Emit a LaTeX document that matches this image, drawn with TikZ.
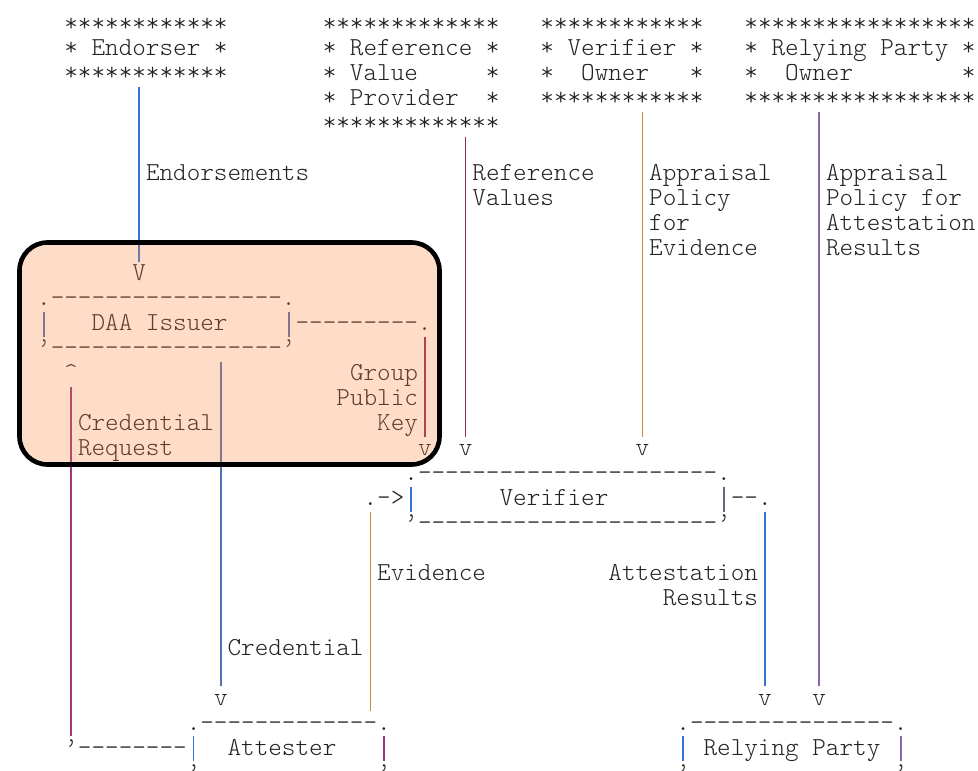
\documentclass[tikz,border=0pt]{standalone}
\definecolor{ink}{RGB}{35,35,35}
\definecolor{cblue}{RGB}{55,115,210}
\definecolor{csteel}{RGB}{80,115,175}
\definecolor{cred}{RGB}{145,40,85}
\definecolor{cmag}{RGB}{160,55,125}
\definecolor{corange}{RGB}{205,135,60}
\definecolor{cpurple}{RGB}{140,100,175}
\definecolor{cgray}{RGB}{100,100,125}
\definecolor{hlfill}{RGB}{250,130,60}

% monospaced face on a 13.6pt character grid
\newcommand\asc{\ttfamily\fontseries{l}\fontsize{25.9pt}{30pt}\selectfont}
\newcount\dashcnt
\newcommand\dashrun[1]{\dashcnt=#1\relax\loop\ifnum\dashcnt>0 -\kern0pt\advance\dashcnt by -1\relax\repeat}
% text placed at grid column #2, row #3 (baseline)
\newcommand\ascnode[4]{\node[txt] (#1) at ({#2-0.5},#3) {#4};}
% vertical rule in column #2 from row #3 to row #4
\newcommand\linkbar[5]{%
  \coordinate (#1-top) at (#2,{#3-0.75});
  \coordinate (#1-bot) at (#2,{#4+0.25});
  \draw[bar,#5] (#1-top) -- (#1-bot);}

\begin{document}
\begin{tikzpicture}[
  txt/.style={anchor=base west, inner sep=0pt, outer sep=0pt, font=\asc, text=ink},
  bar/.style={line width=1.6pt},
  hilite/.style={draw=black, line width=4.6pt, rounded corners=28pt,
    fill=hlfill, fill opacity=0.28, inner sep=0pt, outer sep=0pt,
    minimum width=420pt, minimum height=222pt}
]
\fill[white] (0pt,0pt) rectangle (978pt,-771pt);
\useasboundingbox (0pt,0pt) rectangle (978pt,-771pt);
\begin{scope}
\clip (0pt,0pt) rectangle (978pt,-771pt);
\begin{scope}[shift={(44pt,-31pt)}, x=13.6pt, y=-24.97pt]
  % ---- role boxes along the top
  \ascnode{s0a}{2}{0}{************}
  \ascnode{s0b}{21}{0}{*************}
  \ascnode{s0c}{37}{0}{************}
  \ascnode{s0d}{52}{0}{*****************}
  \ascnode{endorser}{2}{1}{*~Endorser~*}
  \ascnode{refprov}{21}{1}{*~Reference~*}
  \ascnode{verown}{37}{1}{*~Verifier~*}
  \ascnode{rpown}{52}{1}{*~Relying~Party~*}
  \ascnode{s2a}{2}{2}{************}
  \ascnode{refprovb}{21}{2}{*~Value~~~~~*}
  \ascnode{verownb}{37}{2}{*~~Owner~~~*}
  \ascnode{rpownb}{52}{2}{*~~Owner~~~~~~~~*}
  \ascnode{refprovc}{21}{3}{*~Provider~~*}
  \ascnode{s3c}{37}{3}{************}
  \ascnode{s3d}{52}{3}{*****************}
  \ascnode{s4b}{21}{4}{*************}

  % ---- flow labels
  \ascnode{lendors}{8}{6}{Endorsements}
  \ascnode{lref}{32}{6}{Reference}
  \ascnode{lrefb}{32}{7}{Values}
  \ascnode{lape}{45}{6}{Appraisal}
  \ascnode{lapeb}{45}{7}{Policy}
  \ascnode{lapec}{45}{8}{for}
  \ascnode{laped}{45}{9}{Evidence}
  \ascnode{lapr}{58}{6}{Appraisal}
  \ascnode{laprb}{58}{7}{Policy~for}
  \ascnode{laprc}{58}{8}{Attestation}
  \ascnode{laprd}{58}{9}{Results}

  \ascnode{tipE}{7}{10}{V}

  % ---- DAA Issuer
  \ascnode{daatop}{0}{11}{.\dashrun{17}.}
  \ascnode{daa}{4}{12}{DAA~Issuer}
  \ascnode{daaout}{19}{12}{\dashrun{9}.}
  \ascnode{daabot}{0}{13}{’\dashrun{17}’}

  \ascnode{tipCR}{2}{14}{\textasciicircum}
  \ascnode{lgpk}{23}{14}{Group}
  \ascnode{lgpkb}{22}{15}{Public}
  \ascnode{lgpkc}{25}{16}{Key}
  \ascnode{lcr}{3}{16}{Credential}
  \ascnode{lcrb}{3}{17}{Request}
  \ascnode{tipG}{28}{17}{v}
  \ascnode{tipR}{31}{17}{v}
  \ascnode{tipP}{44}{17}{v}

  % ---- Verifier
  \ascnode{vertop}{27}{18}{.\dashrun{22}.}
  \ascnode{evin}{24}{19}{.->}
  \ascnode{ver}{34}{19}{Verifier}
  \ascnode{verout}{51}{19}{\dashrun{2}.}
  \ascnode{verbot}{27}{20}{’\dashrun{22}’}

  \ascnode{lev}{25}{22}{Evidence}
  \ascnode{lar}{42}{22}{Attestation}
  \ascnode{larb}{46}{23}{Results}
  \ascnode{lcred}{14}{25}{Credential}

  \ascnode{tipC}{13}{27}{v}
  \ascnode{tipA}{53}{27}{v}
  \ascnode{tipQ}{57}{27}{v}

  % ---- Attester and Relying Party
  \ascnode{atttop}{11}{28}{.\dashrun{13}.}
  \ascnode{rptop}{47}{28}{.\dashrun{15}.}
  \ascnode{crout}{2}{29}{’\dashrun{8}}
  \ascnode{att}{14}{29}{Attester}
  \ascnode{rp}{49}{29}{Relying~Party}
  \ascnode{attbot}{11}{30}{’\dashrun{13}’}
  \ascnode{rpbot}{47}{30}{’\dashrun{15}’}

  % ---- connectors
  \linkbar{endorse}{7}{3}{9}{cblue}
  \linkbar{refval}{31}{5}{16}{cred}
  \linkbar{polev}{44}{4}{16}{corange}
  \linkbar{polar}{57}{4}{26}{cpurple}
  \linkbar{gpk}{28}{13}{16}{cred}
  \linkbar{cred}{13}{14}{26}{csteel}
  \linkbar{credreq}{2}{15}{28}{cmag}
  \linkbar{evid}{24}{20}{27}{corange}
  \linkbar{attres}{53}{20}{26}{cblue}

  % ---- box sides
  \linkbar{daal}{0}{12}{12}{csteel}
  \linkbar{daar}{18}{12}{12}{csteel}
  \linkbar{verl}{27}{19}{19}{cblue}
  \linkbar{verr}{50}{19}{19}{cgray}
  \linkbar{attl}{11}{29}{29}{cblue}
  \linkbar{attr}{25}{29}{29}{cmag}
  \linkbar{rpl}{47}{29}{29}{cblue}
  \linkbar{rpr}{63}{29}{29}{cpurple}
\end{scope}

% highlighted issuer region
\node[hilite] (focus) at (229.5pt,-353.5pt) {};
\end{scope}
\end{tikzpicture}
\end{document}
